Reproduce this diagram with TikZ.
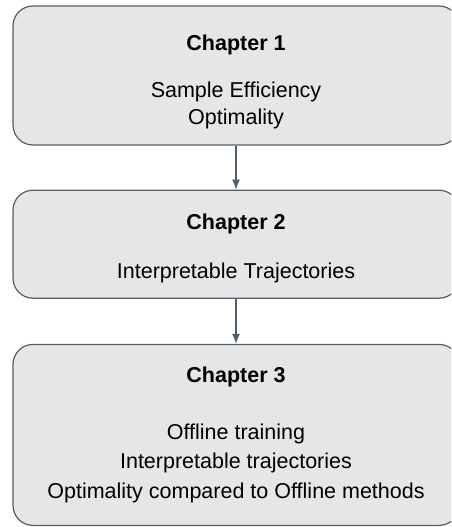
\documentclass[tikz,border=0pt]{standalone}
\usepackage{fontspec}
\setmainfont{Liberation Sans}
\usetikzlibrary{positioning, arrows.meta}
\definecolor{boxline}{HTML}{4F5F70}
\definecolor{boxfill}{HTML}{E6E6E6}
\begin{document}
\begin{tikzpicture}[x=1pt, y=-1pt,
    chapbox/.style={draw=boxline, fill=boxfill, line width=1.2pt, rounded corners=20pt,
        minimum width=446pt, align=center, font=\fontsize{21.5}{27}\selectfont},
    flow/.style={draw=boxline, line width=1.2pt, -{Latex[length=10pt, width=8pt]}}]
    \clip (0,0) rectangle (451,527);
    \node[chapbox, minimum height=139pt] (ch1) at (236,75.5)
        {\rule{0pt}{28pt}\textbf{Chapter 1}\\[20pt] Sample Efficiency\\ Optimality};
    \node[chapbox, minimum height=108pt, below=44pt of ch1] (ch2)
        {\rule{0pt}{24pt}\textbf{Chapter 2}\\[22pt] Interpretable Trajectories};
    \node[chapbox, minimum height=181pt, below=45pt of ch2,
        font=\fontsize{21.5}{29.5}\selectfont] (ch3)
        {\textbf{Chapter 3}\\[27.5pt] Offline training\\ Interpretable trajectories\\
         Optimality compared to Offline methods};
    \draw[flow] (ch1) -- (ch2);
    \draw[flow] (ch2) -- (ch3);
\end{tikzpicture}
\end{document}
